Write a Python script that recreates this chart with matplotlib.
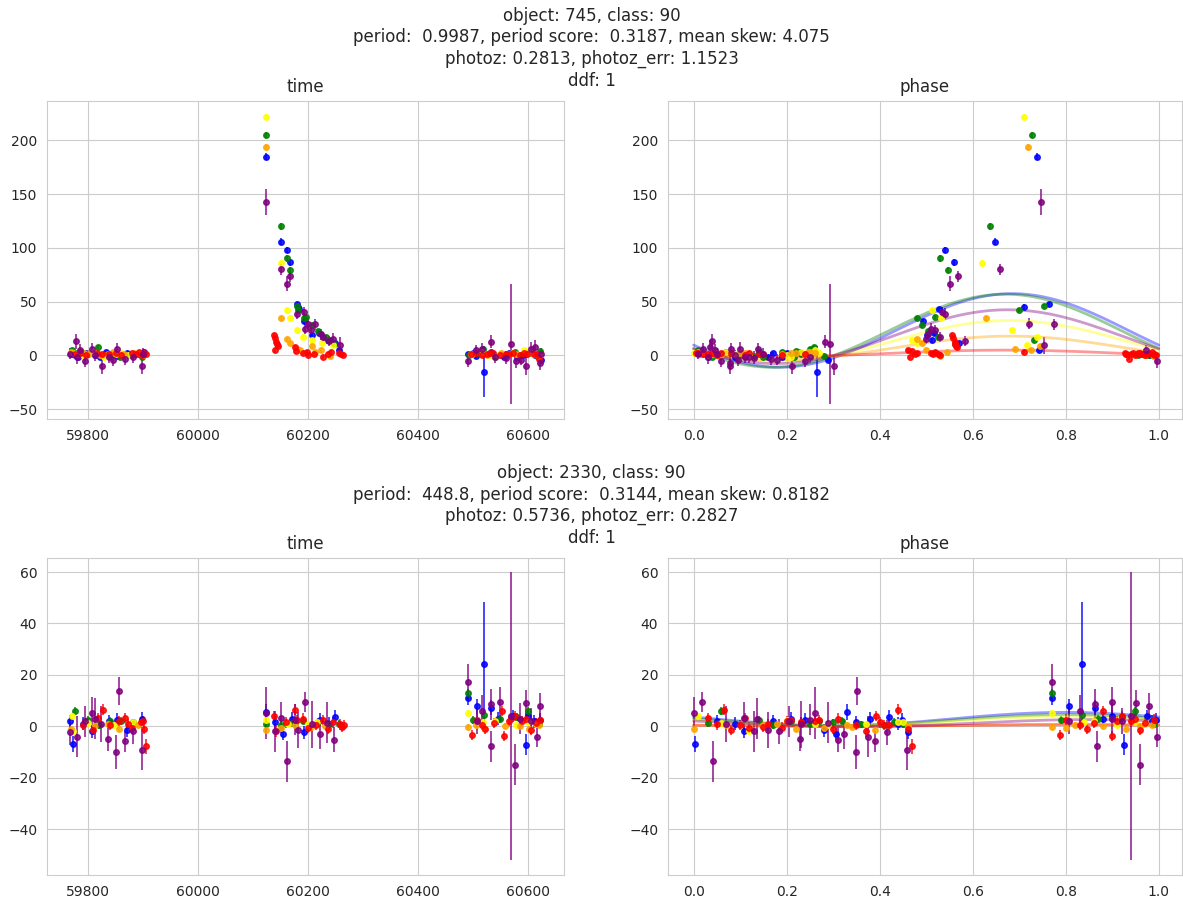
import numpy as np
import matplotlib
matplotlib.use("Agg")
import matplotlib.pyplot as plt
import seaborn as sns

sns.set_style("whitegrid")
plt.rcParams['font.family'] = ['DejaVu Sans']

band_colors = ['blue', 'green', 'yellow', 'orange', 'red', 'purple']

# ---------------- object 745 ----------------
o1_title = ["object: 745, class: 90",
            "period:  0.9987, period score:  0.3187, mean skew: 4.075",
            "photoz: 0.2813, photoz_err: 1.1523",
            "ddf: 1"]

o1_blue_mjd = [59768, 59781, 59795, 59812, 59833, 59852, 59870, 59893, 59902,
               60123, 60151, 60162, 60167, 60179, 60181, 60183, 60193, 60207, 60220, 60234, 60248, 60255,
               60490, 60505, 60520, 60533, 60548, 60565, 60580, 60596, 60612, 60624,
               59775, 59822, 59860, 60500, 60555, 60590]
o1_blue_phase = [0.02, 0.09, 0.23, 0.05, 0.14, 0.99, 0.20, 0.04, 0.226,
                 0.7375, 0.648, 0.541, 0.559, 0.764, 0.711, 0.528, 0.493, 0.501, 0.517, 0.513, 0.57, 0.742,
                 0.96, 0.11, 0.265, 0.07, 0.98, 0.17, 0.03, 0.20, 0.12, 0.29,
                 0.06, 0.16, 0.97, 0.08, 0.19, 0.25]
o1_blue_flux = [1.5, -1.0, 2.0, 0.5, 3.0, -0.5, 2.5, 1.0, 3.0,
                184.8, 105.8, 98.0, 86.5, 48.0, 45.5, 43.5, 31.7, 18.7, 20.8, 14.0, 11.5, 5.3,
                1.5, -0.5, -15.0, 3.0, 0.5, 2.0, -1.0, 1.5, 0.0, -4.0,
                0.5, -1.5, 1.0, 2.5, -1.0, 0.5]
o1_blue_err = [1.5, 1.5, 1.5, 1.5, 1.5, 1.5, 1.5, 1.5, 1.5,
               3.0, 3.0, 3.0, 3.0, 2.0, 2.0, 2.0, 2.0, 2.0, 2.0, 2.0, 2.0, 2.0,
               1.5, 1.5, 24.0, 1.5, 1.5, 1.5, 1.5, 1.5, 1.5, 2.0,
               1.5, 1.5, 1.5, 1.5, 1.5, 1.5]

o1_green_mjd = [59770, 59786, 59800, 59818, 59840, 59858, 59877, 59897,
                60123, 60151, 60162, 60167, 60180, 60182, 60193, 60195, 60207, 60218, 60232, 60240, 60247,
                60492, 60510, 60518, 60540, 60560, 60585, 60605, 60622,
                59779, 59830, 59885, 60530, 60575, 60615]
o1_green_phase = [0.01, 0.191, 0.06, 0.259, 0.13, 0.216, 0.955, 0.04,
                  0.7275, 0.6366, 0.530, 0.547, 0.753, 0.70, 0.481, 0.518, 0.491, 0.505, 0.525, 0.732, 0.563,
                  0.97, 0.08, 0.25, 0.15, 0.03, 0.978, 0.10, 0.22,
                  0.02, 0.10, 0.23, 0.05, 0.14, 0.28]
o1_green_flux = [5.0, 3.1, 1.0, 7.8, -0.5, -1.6, 0.5, -1.0,
                 204.7, 120.0, 90.2, 79.3, 45.7, 42.0, 34.8, 36.0, 28.0, 22.7, 17.0, 14.6, 10.9,
                 0.5, 2.0, 6.2, -1.0, 1.0, 0.0, 2.5, 4.0,
                 2.0, 0.0, 1.5, 1.0, 3.0, -0.5]
o1_green_err = [1.5] * 8 + [3.0] * 4 + [2.0] * 9 + [1.5] * 14

o1_yellow_mjd = [59772, 59790, 59808, 59828, 59850, 59872, 59890,
                 60123, 60151, 60162, 60167, 60179, 60191, 60207, 60225, 60245,
                 60495, 60515, 60545, 60570, 60592, 60610, 60620,
                 59780, 59860, 60530, 60600]
o1_yellow_phase = [0.00, 0.03, 0.07, 0.21, 0.25, 0.12, 0.27,
                   0.7106, 0.621, 0.513, 0.532, 0.684, 0.7375, 0.47, 0.48, 0.717,
                   0.02, 0.23, 0.05, 0.96, 0.26, 0.09, 0.99,
                   0.015, 0.05, 0.20, 0.97]
o1_yellow_flux = [2.0, 0.5, 3.0, -1.0, 1.5, 0.0, 2.5,
                  222.0, 85.8, 42.3, 34.5, 23.3, 17.1, 14.6, 12.0, 9.5,
                  1.0, 3.0, 0.0, 2.0, 5.0, 1.5, -0.5,
                  1.0, 2.5, 0.5, 3.0]
o1_yellow_err = [1.2] * 7 + [2.5, 2.5] + [2.0] * 7 + [1.2] * 11

o1_orange_mjd = [59769, 59784, 59803, 59822, 59845, 59865, 59884, 59900,
                 60123, 60151, 60162, 60167, 60179, 60185, 60207, 60212, 60223, 60239,
                 60498, 60525, 60550, 60578, 60600, 60618,
                 59792, 59835, 60512, 60565, 60608]
o1_orange_phase = [0.01, 0.04, 0.10, 0.24, 0.251, 0.02, 0.21, 0.97,
                   0.719, 0.629, 0.48, 0.49, 0.692, 0.50, 0.744, 0.545, 0.725, 0.53,
                   0.97, 0.06, 0.22, 0.015, 0.26, 0.99,
                   0.035, 0.19, 0.245, 0.03, 0.11]
o1_orange_flux = [3.0, 1.0, 2.0, 0.0, 3.1, 1.5, 2.0, 0.5,
                  193.8, 34.5, 15.5, 11.8, 6.2, 5.0, 8.4, 3.0, 4.7, -0.9,
                  1.5, 0.5, 2.5, 1.0, 2.0, 0.0,
                  2.5, 1.0, 3.0, 1.5, 2.0]
o1_orange_err = [1.2] * 8 + [2.5] + [2.0] * 9 + [1.2] * 11

o1_red_mjd = [59775, 59795, 59815, 59838, 59860, 59880, 59886, 59892, 59897, 59902, 59905,
              60138, 60139, 60141, 60143, 60145, 60140, 60176, 60178, 60190, 60198, 60200, 60210,
              60226, 60235, 60242, 60255, 60260, 60263,
              60495, 60505, 60515, 60525, 60535, 60548, 60560, 60572, 60585, 60598, 60610, 60620,
              59785, 59825, 59850, 60530, 60565, 60592, 60615]
o1_red_phase = [0.02, 0.05, 0.08, 0.93, 0.11, 0.928, 0.975, 0.985, 0.995, 0.96, 0.94,
                0.555, 0.558, 0.561, 0.563, 0.565, 0.46, 0.567, 0.47, 0.51, 0.52, 0.53, 0.515,
                0.465, 0.525, 0.71, 0.48, 0.475, 0.95,
                0.03, 0.06, 0.99, 0.98, 0.12, 0.97, 0.15, 0.01, 0.19, 0.965, 0.24, 0.935,
                0.04, 0.14, 0.945, 0.955, 0.99, 0.005, 0.93]
o1_red_flux = [1.0, 0.5, 2.0, 1.0, 0.0, 2.0, 1.0, 3.0, 0.5, 2.0, 1.5,
               18.7, 16.0, 13.0, 11.0, 9.0, 4.7, 7.8, 4.0, 2.0, 3.1, 0.9, 1.5,
               -1.6, 1.0, 3.1, 2.0, 1.6, 0.5,
               1.0, 2.0, 0.5, 1.5, 2.5, 0.0, 1.0, 2.0, 0.5, 1.5, 1.0, -3.0,
               2.0, 1.0, 2.5, 2.0, 1.0, 2.5, 1.0]
o1_red_err = [1.5] * 11 + [2.0] * 18 + [1.5] * 19

o1_purple_mjd = [59767, 59777, 59780, 59794, 59806, 59813, 59825, 59838, 59853, 59866, 59881, 59897, 59900,
                 60123, 60151, 60162, 60167, 60180, 60193, 60194, 60200, 60205, 60212, 60223, 60226,
                 60238, 60245, 60258,
                 60490, 60505, 60533, 60540, 60569, 60577, 60586, 60596, 60605, 60621, 60624,
                 59785, 59845, 60515, 60560, 60612]
o1_purple_phase = [0.01, 0.04, 0.03, 0.06, 0.139, 0.09, 0.078, 0.12, 0.02, 0.166, 0.25, 0.212, 0.05,
                   0.7475, 0.659, 0.552, 0.569, 0.54, 0.535, 0.51, 0.722, 0.52, 0.774, 0.505, 0.53,
                   0.583, 0.50, 0.754,
                   0.239, 0.973, 0.282, 0.11, 0.293, 0.996, 0.18, 0.302, 0.10, 0.078, 0.15,
                   0.045, 0.095, 0.08, 0.13, 0.035]
o1_purple_flux = [1.6, 13.4, -1.6, -4.7, 6.2, 0.0, -9.3, -1.6, 6.2, -3.1, -1.6, -9.3, 1.6,
                  142.5, 80.2, 66.9, 73.7, 38.9, 40.4, 24.9, 29.5, 23.3, 29.0, 19.6, 17.1,
                  13.4, 15.5, 9.3,
                  -5.3, 4.7, 13.0, -1.6, 10.9, -4.7, -4.0, -9.3, 6.5, -7.2, 1.6,
                  5.0, -4.0, 6.0, -2.0, 8.0]
o1_purple_err = [5, 7, 6, 6, 5, 5, 8, 5, 5, 6, 5, 8, 5,
                 12, 5, 7, 5, 5, 5, 5, 5, 5, 5, 5, 5,
                 5, 5, 8,
                 5, 5, 6, 5, 56, 7, 5, 9, 6, 6, 5,
                 6, 6, 6, 6, 6]

# harmonic fit per band: mean level, amplitude, phase of maximum
o1_fit_mean = [23.3, 23.0, 13.5, 7.0, 2.0, 17.5]
o1_fit_amp = [34.2, 34.0, 19.0, 11.0, 3.0, 25.0]
o1_fit_peak = [0.685, 0.67, 0.68, 0.68, 0.67, 0.675]

# ---------------- object 2330 ----------------
o2_title = ["object: 2330, class: 90",
            "period:  448.8, period score:  0.3144, mean skew: 0.8182",
            "photoz: 0.5736, photoz_err: 0.2827",
            "ddf: 1"]

o2_blue_mjd = [59767, 59772, 59806, 59838, 59853, 59898,
               60123, 60154, 60193, 60221, 60248,
               60490, 60506, 60520, 60533, 60573, 60596, 60600, 60621,
               59790, 59870, 60140, 60170, 60238, 60545, 60610]
o2_blue_phase = [0.05, 0.002, 0.108, 0.17, 0.24, 0.38,
                 0.33, 0.306, 0.46, 0.447, 0.42,
                 0.770, 0.808, 0.836, 0.862, 0.90, 0.925, 0.975, 0.995,
                 0.09, 0.28, 0.35, 0.21, 0.44, 0.88, 0.985]
o2_blue_flux = [2.0, -6.9, -2.0, 2.0, 2.6, 2.9,
                5.5, -3.0, -2.4, 2.6, 3.7,
                11.1, 7.8, 24.2, 7.2, 4.0, -7.2, 4.0, 2.6,
                1.0, -1.5, 1.5, 3.0, 1.0, 3.0, 2.0]
o2_blue_err = [2.5, 3.0, 2.5, 2.5, 2.5, 2.5,
               3.0, 2.5, 2.5, 2.5, 2.5,
               3.0, 3.0, 24.0, 3.0, 2.5, 4.0, 2.5, 2.5,
               2.5, 2.5, 2.5, 2.5, 2.5, 2.5, 2.5]

o2_green_mjd = [59775, 59800, 59840, 59881,
                60123, 60151, 60170, 60218, 60237,
                60490, 60519, 60549, 60600, 60619,
                59820, 59860, 60190, 60255, 60500, 60580]
o2_green_phase = [0.058, 0.14, 0.21, 0.30,
                  0.36, 0.41, 0.03, 0.43, 0.25,
                  0.770, 0.836, 0.87, 0.95, 0.99,
                  0.17, 0.27, 0.32, 0.45, 0.79, 0.92]
o2_green_flux = [5.9, 2.6, 2.0, 1.5,
                 0.7, 0.3, 1.3, 1.6, 1.0,
                 13.1, 4.2, 3.0, 5.9, 1.0,
                 0.5, 2.0, 2.2, 0.8, 2.5, 3.5]
o2_green_err = [1.5] * 20

o2_yellow_mjd = [59771, 59773, 59846, 59881, 60123, 60163, 60490, 60517, 60577, 60614,
                 59800, 60200, 60215, 60540, 60600]
o2_yellow_phase = [0.01, 0.12, 0.29, 0.45, 0.20, 0.37, 0.770, 0.84, 0.91, 0.97,
                   0.06, 0.26, 0.44, 0.86, 0.95]
o2_yellow_flux = [3.9, -2.0, 0.5, 1.5, 2.6, 1.0, 5.0, 1.5, 0.5, 1.0,
                  1.2, 0.8, 1.8, 2.0, 1.5]
o2_yellow_err = [1.2] * 15

o2_orange_mjd = [59768, 59813, 59856, 59890, 60123, 60175, 60230, 60490, 60520, 60557, 60601, 60620,
                 59835, 60150, 60205, 60505, 60585]
o2_orange_phase = [0.0, 0.07, 0.22, 0.33, 0.39, 0.15, 0.46, 0.770, 0.80, 0.88, 0.93, 0.985,
                   0.18, 0.28, 0.34, 0.82, 0.96]
o2_orange_flux = [-1.0, 0.3, -1.2, 0.5, -1.3, 0.6, 0.2, -0.3, -0.5, 0.0, -1.0, 0.5,
                  0.8, -0.5, -0.2, 0.5, 0.2]
o2_orange_err = [1.2] * 17

o2_red_mjd = [59808, 59817, 59826, 59840, 59866, 59872, 59880, 59895, 59900, 59902, 59905,
              60138, 60141, 60176, 60180, 60199, 60214, 60226, 60235, 60258, 60262, 60265,
              60498, 60507, 60522, 60538, 60553, 60556, 60576, 60589, 60605, 60614, 60622,
              59790, 59855, 60160, 60190, 60245, 60515, 60565, 60595]
o2_red_phase = [0.08, 0.03, 0.065, 0.35, 0.11, 0.16, 0.19, 0.23, 0.26, 0.30, 0.47,
                0.393, 0.37, 0.44, 0.27, 0.12, 0.42, 0.21, 0.46, 0.05, 0.15, 0.41,
                0.787, 0.80, 0.845, 0.86, 0.88, 0.90, 0.92, 0.94, 0.96, 0.97, 0.99,
                0.10, 0.20, 0.23, 0.31, 0.40, 0.83, 0.91, 0.95]
o2_red_flux = [-1.5, 3.3, 6.5, 0.5, 3.3, 1.0, -0.5, 1.5, 2.0, -1.0, -7.8,
               3.9, -2.0, 6.5, 2.5, -0.5, 0.5, 2.5, -1.0, 0.7, -0.2, 0.5,
               -3.5, 2.6, -1.0, 1.3, 5.9, -3.9, 3.9, 1.9, -1.5, 1.3, 2.6,
               0.5, 2.0, 1.5, 3.0, 1.5, 0.5, 2.0, 3.0]
o2_red_err = [2.0] * 10 + [3.0] + [2.0] * 30

o2_purple_mjd = [59767, 59780, 59794, 59806, 59813, 59835, 59851, 59855, 59866, 59881, 59897,
                 60123, 60151, 60162, 60182, 60194, 60207, 60222, 60234, 60247,
                 60490, 60507, 60532, 60533, 60549, 60569, 60576, 60596, 60605, 60616, 60621,
                 59824, 60140, 60175, 60515, 60585]
o2_purple_phase = [0.416, 0.375, 0.206, 0.0, 0.136, 0.228, 0.35, 0.352, 0.39, 0.184, 0.459,
                   0.261, 0.108, 0.041, 0.16, 0.019, 0.23, 0.323, 0.288, 0.31,
                   0.770, 0.806, 0.862, 0.868, 0.899, 0.941, 0.96, 0.952, 0.92, 0.997, 0.98,
                   0.07, 0.13, 0.25, 0.83, 0.90]
o2_purple_flux = [-2.4, -4.0, 2.0, 5.2, 3.0, -4.8, -10.0, 13.7, -5.9, -2.0, -9.2,
                  5.2, 3.3, -13.7, -1.3, 9.4, 0.7, -3.0, 1.3, -5.2,
                  17.3, 1.9, 8.5, -7.8, 9.4, 4.0, -15.0, 9.0, 2.0, -4.0, 7.8,
                  1.0, -2.0, 2.5, 6.0, 3.0]
o2_purple_err = [5, 8, 6, 6, 8, 5, 6.5, 5.5, 4, 5, 8,
                 10, 6, 8, 7, 4, 9, 6, 8, 5,
                 7, 5, 6, 6, 6, 56, 8, 5, 5, 4, 5,
                 7, 8, 6, 6, 6]

o2_fit_mean = [2.8, 2.3, 1.9, 0.3, 0.3, 1.2]
o2_fit_amp = [2.6, 2.2, 1.8, 0.5, 0.3, 1.4]
o2_fit_peak = [0.80, 0.80, 0.80, 0.80, 0.80, 0.85]

# ---------------------------------------------
objects = [
    dict(title=o1_title,
         mjd=[o1_blue_mjd, o1_green_mjd, o1_yellow_mjd, o1_orange_mjd, o1_red_mjd, o1_purple_mjd],
         phase=[o1_blue_phase, o1_green_phase, o1_yellow_phase, o1_orange_phase, o1_red_phase, o1_purple_phase],
         flux=[o1_blue_flux, o1_green_flux, o1_yellow_flux, o1_orange_flux, o1_red_flux, o1_purple_flux],
         err=[o1_blue_err, o1_green_err, o1_yellow_err, o1_orange_err, o1_red_err, o1_purple_err],
         fit=(o1_fit_mean, o1_fit_amp, o1_fit_peak), ylim=(-59.3, 236.8)),
    dict(title=o2_title,
         mjd=[o2_blue_mjd, o2_green_mjd, o2_yellow_mjd, o2_orange_mjd, o2_red_mjd, o2_purple_mjd],
         phase=[o2_blue_phase, o2_green_phase, o2_yellow_phase, o2_orange_phase, o2_red_phase, o2_purple_phase],
         flux=[o2_blue_flux, o2_green_flux, o2_yellow_flux, o2_orange_flux, o2_red_flux, o2_purple_flux],
         err=[o2_blue_err, o2_green_err, o2_yellow_err, o2_orange_err, o2_red_err, o2_purple_err],
         fit=(o2_fit_mean, o2_fit_amp, o2_fit_peak), ylim=(-58.0, 65.6)),
]

W, H = 1183, 899
fig = plt.figure(figsize=(W / 100, H / 100), dpi=100)

row_top = [100.7, 557.7]
row_bot = [419.3, 875.3]
title_y = [[16, 37.5, 59, 81], [473, 495, 516, 538]]

for r, obj in enumerate(objects):
    b = 1 - row_bot[r] / H
    h = (row_bot[r] - row_top[r]) / H
    ax_t = fig.add_axes([47 / W, b, 517 / W, h])
    ax_p = fig.add_axes([668 / W, b, 514 / W, h])
    for line, yy in zip(obj['title'], title_y[r]):
        fig.text(0.5, 1 - yy / H, line, ha='center', va='center', fontsize=12, color='.15')
    for i, c in enumerate(band_colors):
        ax_t.errorbar(obj['mjd'][i], obj['flux'][i], yerr=obj['err'][i], fmt='o', color=c,
                      ms=4, elinewidth=1.2, alpha=0.85)
        ax_p.errorbar(obj['phase'][i], obj['flux'][i], yerr=obj['err'][i], fmt='o', color=c,
                      ms=4, elinewidth=1.2, alpha=0.85)
    grid = np.linspace(0, 1, 201)
    mean, amp, peak = obj['fit']
    for i, c in enumerate(band_colors):
        ax_p.plot(grid, mean[i] + amp[i] * np.cos(2 * np.pi * (grid - peak[i])), color=c,
                  alpha=0.4, lw=2)
    ax_t.set_title('time', fontsize=12, color='.15')
    ax_p.set_title('phase', fontsize=12, color='.15')
    ax_t.set_xlim(59725, 60665)
    ax_t.set_xticks([59800, 60000, 60200, 60400, 60600])
    ax_p.set_xlim(-0.055, 1.05)
    ax_p.set_xticks([0.0, 0.2, 0.4, 0.6, 0.8, 1.0])
    for ax in (ax_t, ax_p):
        ax.set_ylim(*obj['ylim'])
        ax.tick_params(labelsize=10, colors='.15')

fig.savefig('out.png', dpi=100)
